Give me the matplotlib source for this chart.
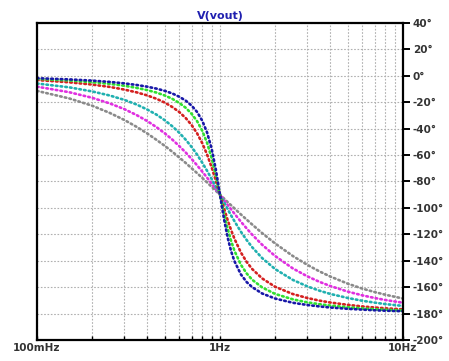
import matplotlib
matplotlib.use("Agg")
from matplotlib import pyplot as plt
from matplotlib.ticker import FixedLocator, NullFormatter, LogLocator

freq = [0.1, 0.15, 0.2, 0.25, 0.3, 0.35, 0.4, 0.45, 0.5, 0.55, 0.6, 0.65, 0.7, 0.75, 0.8,
        0.85, 0.9, 0.95, 1.0, 1.05, 1.1, 1.15, 1.2, 1.3, 1.4, 1.5, 1.7, 2, 2.5, 3, 3.5,
        4, 5, 6, 7, 8, 10]

# phase of V(vout) in degrees, one list per trace
gray = [-11.4, -17.1, -22.6, -28.1, -33.4, -38.6, -43.6, -48.5, -53.1, -57.6, -61.9, -66.0,
        -70.0, -73.7, -77.3, -80.7, -84.0, -87.1, -90, -92.8, -95.5, -98.0, -100.4, -104.9,
        -108.9, -112.6, -119.1, -126.9, -136.4, -143.1, -148.1, -151.9, -157.4, -161.1,
        -163.7, -165.7, -168.6]
magenta = [-8.2, -12.4, -16.6, -20.9, -25.2, -29.7, -34.2, -38.9, -43.6, -48.4, -53.3, -58.1,
           -63.0, -67.8, -72.5, -77.1, -81.6, -85.9, -90, -93.9, -97.6, -101.1, -104.4, -110.4,
           -115.6, -120.3, -127.9, -136.4, -145.8, -151.8, -156.0, -159.1, -163.4, -166.2,
           -168.2, -169.7, -171.8]
cyan = [-5.8, -8.7, -11.8, -14.9, -18.2, -21.7, -25.5, -29.4, -33.7, -38.3, -43.2, -48.4,
        -53.9, -59.7, -65.8, -71.9, -78.1, -84.1, -90, -95.6, -100.8, -105.7, -110.1, -118.0,
        -124.4, -129.8, -138.0, -146.3, -154.5, -159.4, -162.7, -165.1, -168.2, -170.3,
        -171.7, -172.8, -174.2]
red = [-3.2, -4.9, -6.6, -8.4, -10.4, -12.5, -14.8, -17.4, -20.3, -23.7, -27.5, -32.0,
       -37.3, -43.6, -51.0, -59.6, -69.2, -79.5, -90, -100.0, -109.0, -116.8, -123.4, -133.7,
       -141.0, -146.3, -153.4, -159.7, -165.2, -168.2, -170.2, -171.6, -173.4, -174.6,
       -175.4, -176.0, -176.8]
green = [-2.3, -3.5, -4.8, -6.1, -7.5, -9.1, -10.8, -12.7, -14.9, -17.5, -20.6, -24.2,
         -28.8, -34.4, -41.6, -50.8, -62.2, -75.6, -90, -103.7, -115.5, -125.0, -132.5, -143.0,
         -149.7, -154.4, -160.2, -165.1, -169.2, -171.5, -172.9, -173.9, -175.2, -176.1,
         -176.7, -177.1, -177.7]
blue = [-1.8, -2.7, -3.6, -4.6, -5.7, -6.9, -8.2, -9.7, -11.4, -13.4, -15.9, -18.8,
        -22.6, -27.4, -34.0, -42.9, -55.1, -71.3, -90, -107.9, -122.2, -132.8, -140.4, -150.3,
        -156.2, -160.0, -164.8, -168.6, -171.8, -173.5, -174.6, -175.4, -176.4, -177.0,
        -177.5, -177.8, -178.2]

traces = [(gray, "#8a8a8a"), (magenta, "#e030e0"), (cyan, "#20b0b0"),
          (red, "#d42020"), (green, "#30e030"), (blue, "#1818a8")]

y_ticks = list(range(-200, 41, 20))
x_ticks = [0.1, 1, 10]
x_labels = ["100mHz", "1Hz", "10Hz"]

fig = plt.figure(figsize=(4.49, 3.61), dpi=100)
ax = fig.add_axes([37 / 449, 21 / 361, 366 / 449, 317 / 361])

for vals, col in traces:
	ax.plot(freq, vals, color=col, lw=1.9, linestyle=(0, (0.6, 1.2)), dash_capstyle="round")

ax.set_xscale("log")
ax.set_xlim(0.1, 10)
ax.set_ylim(-200, 40)

ax.xaxis.set_major_locator(FixedLocator(x_ticks))
ax.set_xticklabels(x_labels)
ax.xaxis.set_minor_locator(LogLocator(base=10, subs=range(2, 10)))
ax.xaxis.set_minor_formatter(NullFormatter())
ax.set_yticks(y_ticks)
ax.set_yticklabels([f"{v}°" for v in y_ticks])

ax.yaxis.tick_right()
ax.tick_params(axis="y", which="major", direction="out", length=5, width=1.4,
               labelsize=7.5, colors="black", labelcolor="#333333", pad=2)
ax.tick_params(axis="x", which="both", direction="in", length=3, width=1, labelsize=7.5,
               labelcolor="#333333", pad=2)
for lab in ax.get_xticklabels() + ax.get_yticklabels():
	lab.set_fontweight("bold")

ax.grid(True, which="both", axis="x", color="#b0b0b0", lw=0.8, linestyle=(0, (1.5, 1.5)))
ax.grid(True, which="major", axis="y", color="#b0b0b0", lw=0.8, linestyle=(0, (1.5, 1.5)))

for s in ax.spines.values():
	s.set_linewidth(1.6)
	s.set_color("black")

ax.set_title("V(vout)", color="#2020b0", fontsize=8, fontweight="bold", pad=3)

fig.savefig("out.png", dpi=100)
